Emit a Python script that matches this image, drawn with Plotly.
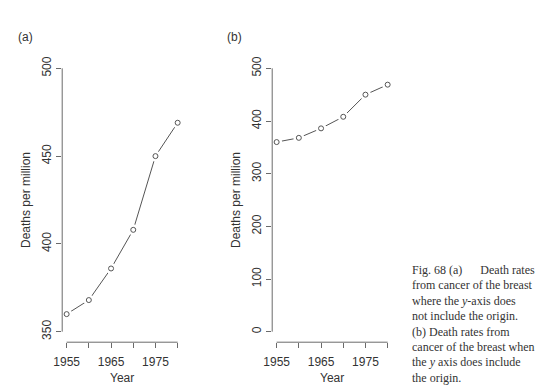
import plotly.graph_objects as go

years = [1955, 1960, 1965, 1970, 1975, 1980]
deaths = [360, 368, 386, 408, 450, 469]

x_ticks = [1955, 1960, 1965, 1970, 1975, 1980]
x_ticktext = ["1955", "", "1965", "", "1975", ""]
ya_ticks = [350, 400, 450, 500]
yb_ticks = [0, 100, 200, 300, 400, 500]

NB = "\u00a0"
caption_lines = [
    "Fig. 68 (a)" + NB * 6 + "Death rates",
    "from cancer of the breast",
    "where the <i>y</i>-axis does",
    "not include the origin.",
    "(b) Death rates from",
    "cancer of the breast when",
    "the <i>y</i> axis does include",
    "the origin.",
]

W, H = 540, 389
LINE_COL = "#555555"
AXIS_COL = "#6a6a6a"
TEXT_COL = "#333333"
SANS = "Liberation Sans, Arial, sans-serif"
SERIF = "Liberation Serif, Times New Roman, serif"

def px(x):
    return x / W

def py(y):
    return 1 - y / H

fig = go.Figure()

for xa, ya in (("x", "y"), ("x2", "y2")):
    fig.add_trace(go.Scatter(x=years, y=deaths, xaxis=xa, yaxis=ya, mode="lines",
                             line=dict(color=LINE_COL, width=1), hoverinfo="skip"))
    fig.add_trace(go.Scatter(x=years, y=deaths, xaxis=xa, yaxis=ya, mode="markers",
                             marker=dict(symbol="circle", size=11, color="white",
                                         line=dict(width=0)), hoverinfo="skip"))
    fig.add_trace(go.Scatter(x=years, y=deaths, xaxis=xa, yaxis=ya, mode="markers",
                             marker=dict(symbol="circle-open", size=5, color=LINE_COL,
                                         line=dict(width=1, color=LINE_COL))))

ydom = [py(342.2), py(57.8)]
common_x = dict(range=[1954, 1981], tickvals=x_ticks, ticktext=x_ticktext,
                ticks="outside", ticklen=5, tickcolor=AXIS_COL, tickwidth=1,
                showline=False, showgrid=False, zeroline=False, automargin=False,
                ticklabelstandoff=3,
                tickfont=dict(family=SANS, size=12, color=TEXT_COL))
common_y = dict(ticks="outside", ticklen=5, tickcolor=AXIS_COL, tickwidth=1,
                showline=False, showgrid=False, zeroline=False, tickangle=-90,
                automargin=False,
                tickfont=dict(family=SANS, size=12, color=TEXT_COL))

fig.update_layout(
    width=W, height=H,
    margin=dict(l=0, r=0, t=0, b=0),
    paper_bgcolor="white", plot_bgcolor="white",
    showlegend=False,
    xaxis=dict(domain=[px(62.2), px(182.1)], anchor="y", **common_x),
    yaxis=dict(domain=ydom, anchor="x", range=[344, 506], tickvals=ya_ticks, **common_y),
    xaxis2=dict(domain=[px(272.2), px(392.1)], anchor="y2", **common_x),
    yaxis2=dict(domain=ydom, anchor="x2", range=[-20, 520], tickvals=yb_ticks, **common_y),
)

shapes = []
for xa, ya, yt in (("x", "y", ya_ticks), ("x2", "y2", yb_ticks)):
    shapes.append(dict(type="line", xref=xa, yref=ya + " domain", x0=x_ticks[0], x1=x_ticks[-1],
                       y0=0, y1=0, line=dict(color=AXIS_COL, width=1)))
    shapes.append(dict(type="line", xref=xa + " domain", yref=ya, x0=0, x1=0,
                       y0=yt[0], y1=yt[-1], line=dict(color=AXIS_COL, width=1)))
fig.update_layout(shapes=shapes)

ann = []
for label, xc in (("(a)", 25), ("(b)", 234)):
    ann.append(dict(text=label, x=px(xc), y=py(37), xref="paper", yref="paper",
                    showarrow=False, xanchor="center", yanchor="middle",
                    font=dict(family=SANS, size=12, color=TEXT_COL)))
for xc in (122, 332):
    ann.append(dict(text="Year", x=px(xc), y=py(378), xref="paper", yref="paper",
                    showarrow=False, xanchor="center", yanchor="middle",
                    font=dict(family=SANS, size=12, color=TEXT_COL)))
for xc in (26, 236):
    ann.append(dict(text="Deaths per million", x=px(xc), y=py(200), xref="paper", yref="paper",
                    showarrow=False, xanchor="center", yanchor="middle", textangle=-90,
                    font=dict(family=SANS, size=12, color=TEXT_COL)))
for i, line in enumerate(caption_lines):
    ann.append(dict(text=line, x=px(410), y=py(270 + i * 15.4), xref="paper", yref="paper",
                    showarrow=False, xanchor="left", yanchor="middle",
                    font=dict(family=SERIF, size=12, color=TEXT_COL)))
fig.update_layout(annotations=ann)

fig.write_html("out.html", config={"displayModeBar": False},
               post_script="document.body.style.margin='0px';document.body.style.overflow='hidden';")
